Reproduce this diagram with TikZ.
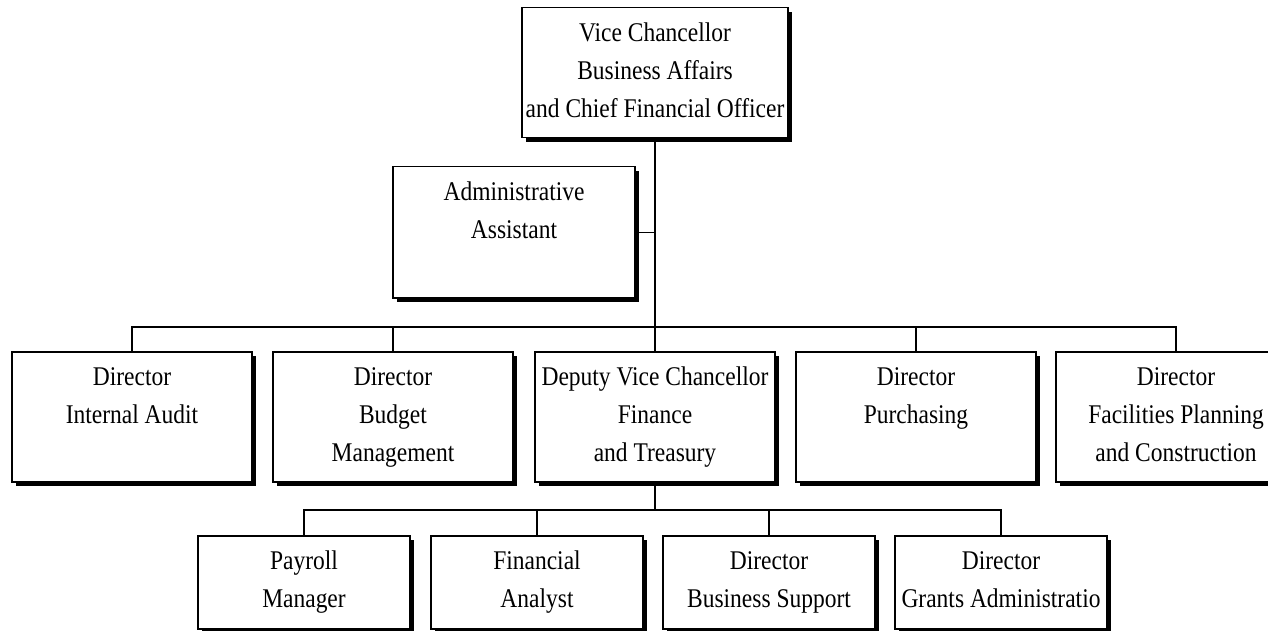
\documentclass[tikz,border=0pt]{standalone}
\usepackage{fontspec}
\setmainfont{Liberation Serif}[FakeStretch=0.87]
\usetikzlibrary{shadows}

% text block of a box: fixed size, lines centred and hung from the top
\newcommand\orgcell[3]{\parbox[c][#2][t]{#1}{\centering\rule{0pt}{34pt}#3}}

\begin{document}
\begin{tikzpicture}[x=1pt,y=-1pt,
  orgbox/.style={draw=black, line width=1.5pt, fill=white, inner sep=0pt,
    anchor=north, font=\fontsize{27}{38}\selectfont,
    drop shadow={shadow xshift=4pt, shadow yshift=-4pt, fill=black, opacity=1}},
  link/.style={draw=black, line width=1.5pt}]
\useasboundingbox (0,0) rectangle (1268,631);
\clip (0,0) rectangle (1268,631);
\fill[white] (0,0) rectangle (1268,631);

% top of the chart
\node[orgbox] (vc) at (655,7) {\orgcell{266pt}{130pt}{Vice Chancellor\\Business Affairs\\and Chief Financial Officer}};
\node[orgbox] (aa) at (514,166) {\orgcell{242pt}{131pt}{Administrative\\Assistant}};

% directors
\node[orgbox] (ia)  at (132,351)  {\orgcell{240pt}{130pt}{Director\\Internal Audit}};
\node[orgbox] (bm)  at (393,351)  {\orgcell{240pt}{130pt}{Director\\Budget\\Management}};
\node[orgbox] (dvc) at (655,351)  {\orgcell{240pt}{130pt}{Deputy Vice Chancellor\\Finance\\and Treasury}};
\node[orgbox] (pu)  at (916,351)  {\orgcell{240pt}{130pt}{Director\\Purchasing}};
\node[orgbox] (fp)  at (1176,351) {\orgcell{240pt}{130pt}{Director\\Facilities Planning\\and Construction}};

% finance and treasury staff
\node[orgbox] (pm) at (304,535)  {\orgcell{212pt}{93pt}{Payroll\\Manager}};
\node[orgbox] (fa) at (537,535)  {\orgcell{212pt}{93pt}{Financial\\Analyst}};
\node[orgbox] (bs) at (769,535)  {\orgcell{212pt}{93pt}{Director\\Business Support}};
\node[orgbox] (ga) at (1001,535) {\orgcell{212pt}{93pt}{Director\\Grants Administratio}};

% bus lines
\coordinate (bus2) at (655,327);
\coordinate (bus3) at (655,510);

\draw[link] (vc.south) -- (bus2);
\draw[link] (aa.east) -- (aa.east -| vc.south);
\draw[link] (ia.north) |- (bus2) -| (fp.north);
\draw[link] (bm.north) -- (bm.north |- bus2);
\draw[link] (dvc.north) -- (bus2);
\draw[link] (pu.north) -- (pu.north |- bus2);

\draw[link] (dvc.south) -- (bus3);
\draw[link] (pm.north) |- (bus3) -| (ga.north);
\draw[link] (fa.north) -- (fa.north |- bus3);
\draw[link] (bs.north) -- (bs.north |- bus3);
\end{tikzpicture}
\end{document}
